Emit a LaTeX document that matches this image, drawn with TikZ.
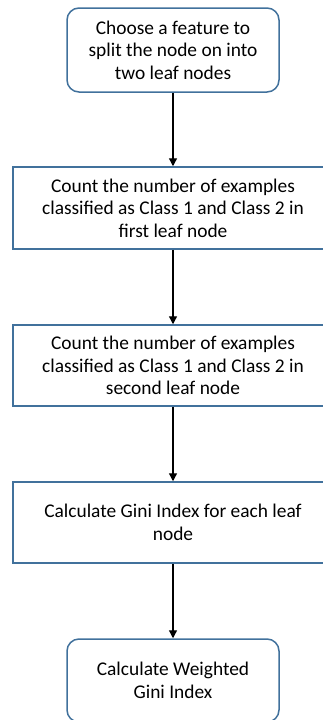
\documentclass[tikz,border=0pt]{standalone}
\usepackage{fontspec}
\setmainfont{Carlito}
\usetikzlibrary{arrows.meta}
\begin{document}
\begin{tikzpicture}[x=1pt,y=-1pt,
  every node/.style={font=\fontsize{19.4}{22.5}\selectfont, align=center, inner sep=0pt, text=black},
  roundbox/.style={draw=boxblue, line width=1.5pt, rounded corners=12pt, minimum width=212pt},
  stepbox/.style={draw=boxblue, line width=1.5pt, minimum width=320pt},
  flow/.style={draw=black, line width=1.3pt, -{Triangle[length=8pt,width=8pt]}}
]
\definecolor{boxblue}{HTML}{41719C}
\useasboundingbox (0,0) rectangle (323,720);
\clip (0,0) rectangle (323,720);

\node[roundbox, minimum height=84pt] (choose) at (173,50)
  {Choose a feature to\\split the node on into\\two leaf nodes};
\node[stepbox, minimum height=82pt] (first) at (173,208)
  {Count the number of examples\\classified as Class 1 and Class 2 in\\first leaf node};
\node[stepbox, minimum height=81pt] (second) at (173,365.5)
  {Count the number of examples\\classified as Class 1 and Class 2 in\\second leaf node};
\node[stepbox, minimum height=81pt] (gini) at (173,522.5)
  {Calculate Gini Index for each leaf\\node};
\node[roundbox, minimum height=83pt] (weighted) at (173,680.5)
  {Calculate Weighted\\Gini Index};

\draw[flow] (choose.south) -- (first.north);
\draw[flow] (first.south) -- (second.north);
\draw[flow] (second.south) -- (gini.north);
\draw[flow] (gini.south) -- (weighted.north);
\end{tikzpicture}
\end{document}
